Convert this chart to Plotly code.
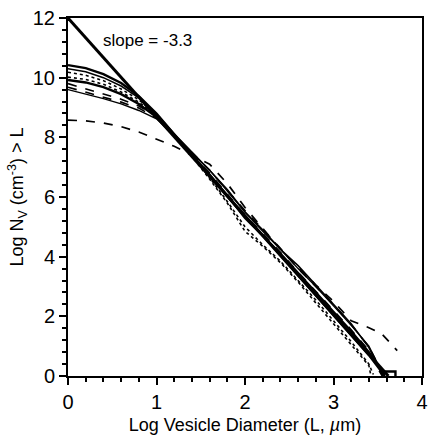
import plotly.graph_objects as go

# x nodes shared by most curves (log vesicle diameter)
x_nodes = [0, 0.2, 0.4, 0.6, 0.8, 1.0, 1.2, 1.4, 1.6, 1.8, 2.0, 2.2, 2.4, 2.6, 2.8, 3.0, 3.2, 3.4]

# reference power-law line
line_x = [0, 3.62]
line_y = [12, 0]

# individual size distributions (log Nv > L)
ya = [10.42, 10.32, 10.12, 9.82, 9.38, 8.80, 8.10, 7.42, 6.72, 6.02, 5.35, 4.72, 4.05, 3.40, 2.72, 2.05, 1.38, 0.70]
yb = [10.30, 10.20, 10.00, 9.72, 9.32, 8.78, 8.12, 7.52, 6.90, 6.25, 5.50, 4.90, 4.25, 3.70, 3.05, 2.40, 1.75, 0.95]
yc = [10.18, 10.08, 9.90, 9.62, 9.26, 8.76, 8.10, 7.40, 6.65, 5.85, 5.00, 4.40, 3.85, 3.20, 2.55, 1.85, 1.15, 0.40]
yd = [10.02, 9.94, 9.78, 9.52, 9.18, 8.72, 8.08, 7.36, 6.60, 5.80, 4.85, 4.35, 3.80, 3.15, 2.45, 1.75, 1.05, 0.35]
ye = [9.92, 9.84, 9.68, 9.45, 9.12, 8.68, 8.05, 7.40, 6.75, 6.05, 5.30, 4.70, 4.10, 3.45, 2.80, 2.15, 1.50, 0.80]
yf = [9.80, 9.62, 9.45, 9.28, 9.05, 8.70, 8.08, 7.50, 6.90, 6.22, 5.55, 4.92, 4.28, 3.60, 3.00, 2.40, 1.72, 0.98]
yg = [9.68, 9.52, 9.35, 9.18, 8.98, 8.65, 8.06, 7.45, 6.80, 6.10, 5.40, 4.78, 4.15, 3.48, 2.85, 2.20, 1.55, 0.85]
yh = [9.60, 9.46, 9.30, 9.12, 8.90, 8.62, 8.05, 7.50, 6.90, 6.20, 5.50, 4.85, 4.25, 3.60, 3.00, 2.35, 1.70, 1.00]
yi = [8.58, 8.55, 8.48, 8.36, 8.18, 7.95, 7.70, 7.40, 7.10, 6.45, 5.65, 4.95, 4.25, 3.65, 3.05, 2.50, 1.85, 1.62]

# tails beyond x = 3.4
tail_a = ([3.58], [0.0])
tail_b = ([3.52, 3.56], [0.2, 0.0])
tail_c = ([3.45], [0.05])
tail_d = ([3.42], [0.05])
tail_e = ([3.55, 3.55, 3.70, 3.70], [0.15, 0.15, 0.15, 0.0])
tail_f = ([3.52, 3.56], [0.3, 0.0])
tail_g = ([3.50, 3.55], [0.25, 0.0])
tail_h = ([3.50, 3.58], [0.4, 0.05])
tail_i = ([3.55, 3.72], [1.4, 0.85])

fig = go.Figure()

curves = [
    (ya, tail_a, "solid", 2.4),
    (yb, tail_b, "solid", 1.5),
    (yc, tail_c, "dot", 1.6),
    (yd, tail_d, "dot", 1.6),
    (ye, tail_e, "solid", 2.4),
    (yf, tail_f, "dash", 1.6),
    (yg, tail_g, "dash", 1.6),
    (yh, tail_h, "solid", 1.4),
    (yi, tail_i, "dash", 1.7),
]
for ys, (tx, ty), dash, w in curves:
    fig.add_trace(go.Scatter(x=x_nodes + tx, y=ys + ty, mode="lines",
                             line=dict(color="black", width=w, dash=dash),
                             showlegend=False))

fig.add_trace(go.Scatter(x=line_x, y=line_y, mode="lines",
                         line=dict(color="black", width=3), showlegend=False))

fig.add_annotation(x=0.37, y=11.25, text="slope = -3.3", showarrow=False,
                   xanchor="left", font=dict(size=17, color="black"))

axis_common = dict(showgrid=False, zeroline=False, showline=True, linecolor="black",
                   linewidth=2, mirror=True, ticks="outside", tickcolor="black",
                   tickwidth=1.5, ticklen=7, tickfont=dict(size=20, color="black"))

fig.update_xaxes(range=[0, 4], dtick=1,
                 minor=dict(dtick=0.2, ticks="outside", ticklen=4, tickcolor="black"),
                 title=dict(text="Log Vesicle Diameter (L, <i>µ</i>m)", font=dict(size=18, color="black"),
                            standoff=6),
                 **axis_common)
fig.update_yaxes(range=[0, 12], dtick=2,
                 minor=dict(dtick=0.4, ticks="outside", ticklen=4, tickcolor="black"),
                 title=dict(text="Log N<sub>V</sub> (cm<sup>-3</sup>) > L", font=dict(size=18, color="black"),
                            standoff=4),
                 **axis_common)

fig.update_layout(width=432, height=436, plot_bgcolor="white", paper_bgcolor="white",
                  margin=dict(l=68, r=4, t=18, b=60),
                  font=dict(family="Liberation Sans, Arial, sans-serif", color="black"))

fig.write_html("out.html", config={"displayModeBar": False},
               post_script="document.body.style.margin='0';")
